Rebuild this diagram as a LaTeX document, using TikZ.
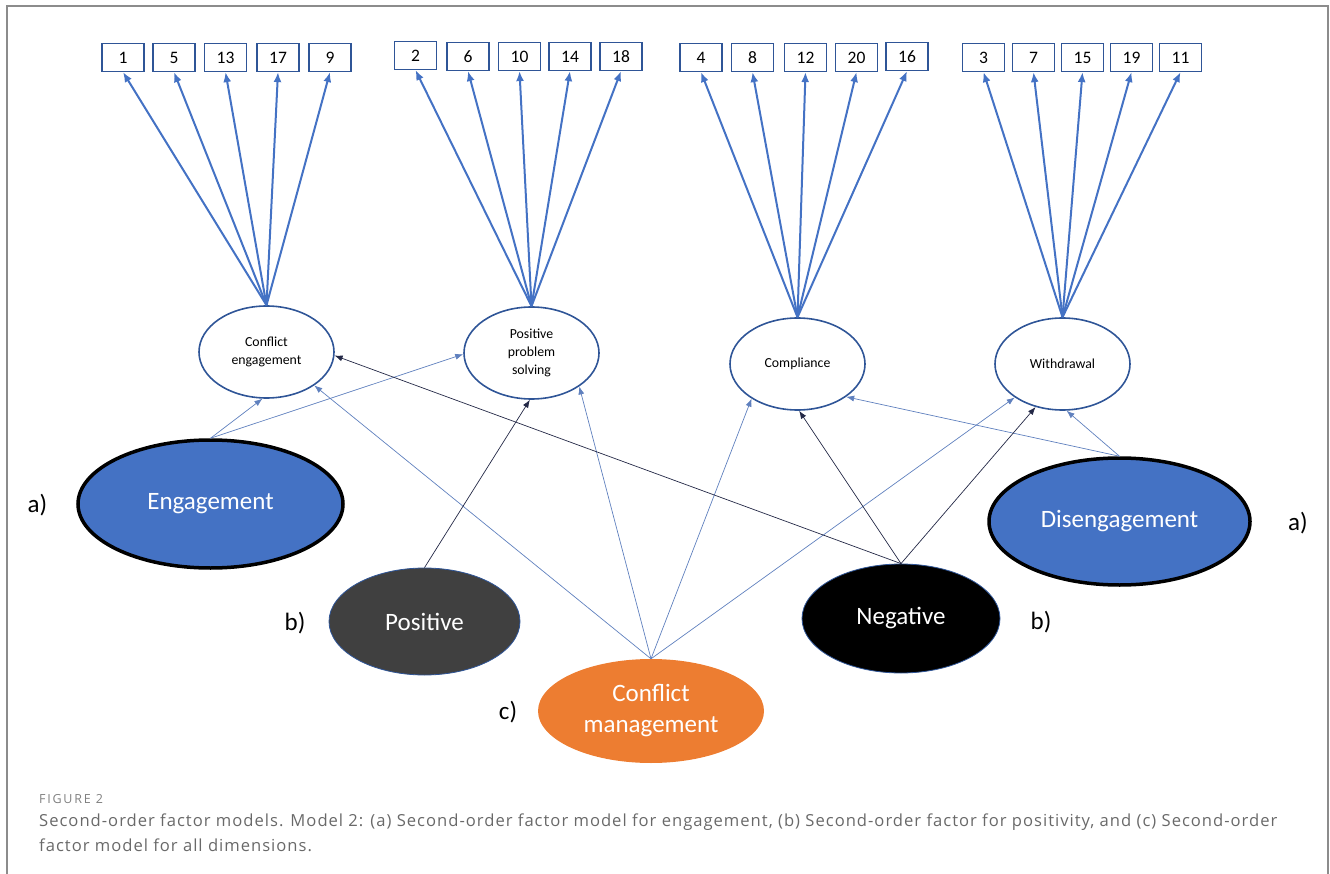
\documentclass[tikz,border=0pt]{standalone}
\usepackage{fontspec}
\setmainfont{Carlito}
\newfontfamily\capfont[LetterSpace=6]{Open Sans}
\newfontfamily\figfont[LetterSpace=14]{Open Sans}
\usetikzlibrary{shapes.geometric,arrows.meta}

\definecolor{itemblue}{RGB}{47,85,151}
\definecolor{arrowblue}{RGB}{68,114,196}
\definecolor{thinblue}{RGB}{95,128,190}
\definecolor{navyline}{RGB}{35,40,70}
\definecolor{posgray}{RGB}{64,64,64}
\definecolor{cmorange}{RGB}{237,125,49}
\definecolor{framegray}{RGB}{140,140,140}
\definecolor{capgray}{RGB}{105,105,105}

\tikzset{
  higher/.style={ellipse, inner sep=0pt, text=white, font=\fontsize{25}{31}\selectfont, align=center},
  tag/.style={font=\fontsize{25}{31}\selectfont}
}

\begin{document}
\begin{tikzpicture}[x=1pt,y=-1pt]
        \useasboundingbox (0,0) rectangle (1330,874);
        \draw[framegray, line width=2.2pt] (7,874) -- (7,6) -- (1328,6) -- (1328,874);

        % items
        \begin{scope}[every node/.style={draw=itemblue, line width=1.2pt, minimum width=42pt, minimum height=28pt, inner sep=0pt, font=\fontsize{17.5}{19}\selectfont}]
          \node (1)  at (123,57.5)   {1};
          \node (5)  at (174,57.5)   {5};
          \node (13) at (225.5,57.5) {13};
          \node (17) at (278,57.5)   {17};
          \node (9)  at (330,57.5)   {9};
          \node (2)  at (415.5,55.5) {2};
          \node (6)  at (468,56.5)   {6};
          \node (10) at (519.5,56.5) {10};
          \node (14) at (570,56.5)   {14};
          \node (18) at (621,56.5)   {18};
          \node (4)  at (701,57.5)   {4};
          \node (8)  at (752.5,57.5) {8};
          \node (12) at (805.5,57.5) {12};
          \node (20) at (856.5,57.5) {20};
          \node (16) at (907,56.5)   {16};
          \node (3)  at (983.5,57.5)  {3};
          \node (7)  at (1033.5,57.5) {7};
          \node (15) at (1082.5,57.5) {15};
          \node (19) at (1131.5,57.5) {19};
          \node (11) at (1180.5,57.5) {11};
        \end{scope}

        % first-order factors
        \begin{scope}[every node/.style={ellipse, draw=itemblue, line width=1.6pt, minimum width=135pt, minimum height=92pt, inner sep=0pt, align=center, font=\fontsize{13.8}{18}\selectfont}]
          \node (ce)    at (266.5,352)  {Conflict\\engagement};
          \node (pps)   at (531.5,353)  {Positive\\problem\\solving};
          \node (comp)  at (797.5,364)  {Compliance};
          \node (withd) at (1062.5,364) {Withdrawal};
        \end{scope}

        % second-order factors
        \node[higher, fill=arrowblue, draw=black, line width=3.5pt, minimum width=265pt, minimum height=128pt] (eng)  at (210.5,504)  {Engagement};
        \node[higher, fill=arrowblue, draw=black, line width=3.5pt, minimum width=261pt, minimum height=127pt] (dis)  at (1119.5,521.5) {Disengagement};
        \node[higher, fill=posgray, draw=itemblue, line width=0.8pt, minimum width=191pt, minimum height=107pt] (pos)  at (424.5,621.5) {Positive};
        \node[higher, fill=black, draw=itemblue, line width=0.8pt, minimum width=198pt, minimum height=109pt] (neg)  at (901,618.5)  {Negative};
        \node[higher, fill=cmorange, minimum width=226pt, minimum height=104pt] (cm) at (651,711) {Conflict\\management};

        \node[tag] (ta1) at (37.5,505)  {a)};
        \node[tag] (ta2) at (1298,523)  {a)};
        \node[tag] (tb1) at (295,623)   {b)};
        \node[tag] (tb2) at (1041,622)  {b)};
        \node[tag] (tc)  at (508,712)   {c)};

        % loadings
        \begin{scope}[every edge/.style={draw=arrowblue, line width=2pt, -{Latex[length=10pt,width=8pt]}}]
          \path (ce.north) edge (1.south);
          \path (ce.north) edge (5.south);
          \path (ce.north) edge (13.south);
          \path (ce.north) edge (17.south);
          \path (ce.north) edge (9.south);
          \path (pps.north) edge (2.south);
          \path (pps.north) edge (6.south);
          \path (pps.north) edge (10.south);
          \path (pps.north) edge (14.south);
          \path (pps.north) edge (18.south);
          \path (comp.north) edge (4.south);
          \path (comp.north) edge (8.south);
          \path (comp.north) edge (12.south);
          \path (comp.north) edge (20.south);
          \path (comp.north) edge (16.south);
          \path (withd.north) edge (3.south);
          \path (withd.north) edge (7.south);
          \path (withd.north) edge (15.south);
          \path (withd.north) edge (19.south);
          \path (withd.north) edge (11.south);
        \end{scope}

        \begin{scope}[every edge/.style={draw=thinblue, line width=0.7pt, -{Latex[length=8pt,width=6pt]}}]
          \path (eng.north) edge (ce.265);
          \path (eng.north) edge (pps.181);
          \path (cm.north) edge (ce.325);
          \path (cm.north) edge (pps.325);
          \path (cm.north) edge (comp.217);
          \path (cm.north) edge (withd.215);
          \path (dis.north) edge (comp.326);
          \path (dis.north) edge (withd.275);
        \end{scope}

        \begin{scope}[every edge/.style={draw=navyline, line width=0.7pt, -{Latex[length=8pt,width=6pt]}}]
          \path (pos.north) edge (pps.268);
          \path (neg.north) edge (ce.357);
          \path (neg.north) edge (comp.272);
          \path (neg.north) edge (withd.238);
        \end{scope}

        % caption
        \node[anchor=west, inner sep=0pt, text=capgray!85, font=\figfont\fontsize{12.5}{14}\selectfont] (fig) at (39,799) {FIGURE 2};
        \node[anchor=north west, inner sep=0pt, align=left, text=capgray, font=\capfont\fontsize{16.6}{24.5}\selectfont] (cap) at (39,814) {Second-order factor models. Model 2: (a) Second-order factor model for engagement, (b) Second-order factor for positivity, and (c) Second-order\\factor model for all dimensions.};

      \end{tikzpicture}
\end{document}
